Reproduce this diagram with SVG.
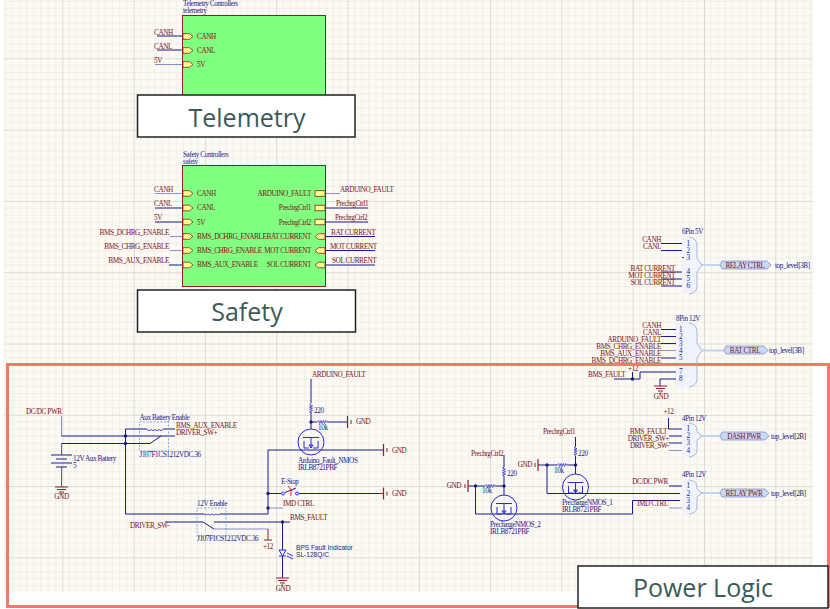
<svg xmlns="http://www.w3.org/2000/svg" width="830" height="609" viewBox="0 0 830 609">
<style>
text{font-family:"Liberation Serif","Times New Roman",serif;font-size:7.2px;letter-spacing:-.4px}
.r{fill:#7a1020}.b{fill:#20208a}.e{text-anchor:end}.m{text-anchor:middle}
text.s{font-family:"Liberation Sans",Arial,sans-serif;font-size:6.6px;letter-spacing:0;fill:#20208a}
text.big{font-family:"Open Sans","Noto Sans",sans-serif;font-size:25px;letter-spacing:0;fill:#3c5a58;text-anchor:middle}
.w{fill:none;stroke:#1c1c8c;stroke-width:1}
.p{fill:none;stroke:#8f90cc;stroke-width:1}
.g{fill:none;stroke:#8a1f2a;stroke-width:1}
.sheet{fill:#80ff80;stroke:#8a1f2a;stroke-width:1}
.box{fill:#fff;stroke:#222;stroke-width:1.5}
.port{fill:#ffff90;stroke:#8a1f2a;stroke-width:.8}
.j{fill:#1c1c6c}
.mos{fill:none;stroke:#2a2ae0;stroke-width:1}
.rs{fill:none;stroke:#2a2ad0;stroke-width:.8}
.rly{fill:none;stroke:#5a90e0;stroke-width:.7;stroke-dasharray:2 1.5}
.hb{fill:#f0f3fa;stroke:none}
.hl{fill:none;stroke:#a9b6e0;stroke-width:1}
.hw{fill:none;stroke:#c6d4f4;stroke-width:2}
.hp{fill:#c8d8f6;stroke:#7a88c0;stroke-width:.7}
</style>
<defs>
<pattern id="grid" width="71.3" height="71.3" patternUnits="userSpaceOnUse" patternTransform="translate(-9 -13)">
<rect width="71.3" height="71.3" fill="#fcfaf4"/>
<path d="M7.13 0V71.3M14.26 0V71.3M21.39 0V71.3M28.52 0V71.3M35.65 0V71.3M42.78 0V71.3M49.91 0V71.3M57.04 0V71.3M64.17 0V71.3M0 7.13H71.3M0 14.26H71.3M0 21.39H71.3M0 28.52H71.3M0 35.65H71.3M0 42.78H71.3M0 49.91H71.3M0 57.04H71.3M0 64.17H71.3" fill="none" stroke="#f1eee5" stroke-width="1"/>
<path d="M.5 0V71.3M0 .5H71.3" fill="none" stroke="#dedbd1" stroke-width="1"/>
</pattern>
<path id="pin" class="port" d="M0-2.8H6.5L10 0L6.5 2.8H0Z"/>
<path id="pinr" class="port" d="M10-2.8H3.5L0 0L3.5 2.8H10Z"/>
<rect id="pino" class="port" x="0" y="-2.8" width="10" height="5.6"/>
<circle id="dot" class="j" r="1.7"/>
<path id="rv" class="rs" d="M0-4.5L-1.5-3.4L1.5-2.2L-1.5-1L1.5 .2L-1.5 1.4L1.5 2.6L-1.5 3.8L0 4.5"/>
<path id="rh" class="g" d="M-4.5 0L-3.4-1.5L-2.2 1.5L-1-1.5L.2 1.5L1.4-1.5L2.6 1.5L3.8-1.5L4.5 0" style="stroke:#2a2ad0;stroke-width:.8"/>
<g id="gndd"><path class="g" d="M-6.5 0H6.5M-4.5 2.5H4.5M-2.5 5H2.5M-.8 7H.8"/></g>
<path id="gndv" class="g" d="M0-6V6" style="stroke-width:1.2"/>
<g id="fet"><circle class="mos" r="13"/><path class="mos" d="M-8-4.5H8M-7-1V6H-2M7-1V6H2M0-4.5V6M0 6L-2 3H2Z"/></g>
</defs>
<rect width="830" height="609" fill="#fff"/>
<rect x="4" y="0" width="809" height="592" fill="url(#grid)"/>

<g id="connectors">
<path class="w" d="M157 36H184M157 50H184"/>
<path class="p" d="M155 64.500H184"/>
<path class="p" d="M155 193.500H184M170 236.500H184M170 250.500H184M325 193.500H340"/>
<path class="w" d="M155 208H184M155 222H184M169 265H184M325 208H368M325 222H368M325 236.500H375M325 250.500H375M325 265H375"/>
<path class="w" d="M661 243.500H684M661 250.500H684M661 272H684M661 279H684M661 286H684"/>
<path class="w" d="M661 329.500H679M661 336.500H679M661 343.500H679M661 358H679"/>
<path class="p" d="M661 350.500H679M661 365H679"/>
<path class="w" d="M632.500 379H640V372H679M660 379H679"/>
<path class="w" d="M660 379V386M632.500 372V379M614 379H632.500"/>
<path class="w" d="M668.500 418V429H683M669 436H683M669 443H683M669 486H683"/>
<path class="p" d="M669 450.500H683M669 508H683"/>
<path class="p" d="M61.500 416V436"/>
<path class="w" d="M61.500 436H175M61.500 443.500H150"/>
<path d="M61.500 443.500V455M61.500 467V487" class="g" style="stroke:#666"/>
<path class="w" d="M125.500 429V514H204M125.500 429H147M163 429H175"/>
<path class="w" d="M220 514H268V450H383"/>
<path class="w" d="M268 493.500H281M299 493.500H378"/>
<path class="p" d="M268 508H283M214 529H268"/>
<path class="g" d="M378 493.500H383"/>
<path class="w" d="M165 522H203M214 522H290M282.500 522V550M282.500 556V578"/>
<path class="g" d="M268 529V540"/>
<path class="w" d="M311 379V403M311 412V429M311 422H317M327 422H347"/>
<path class="w" d="M575.500 437V447M575.500 456V474M575.500 465H567M557 465H538"/>
<path class="w" d="M547 465V493.500H680"/>
<path class="w" d="M504 455V467M504 476V495M504 486H495M485 486H468M475.500 486V514H632.500V500.500H680"/>
</g>

<g id="telemetry">
<text class="b" x="183" y="6">Telemetry Controllers</text>
<text class="b" x="183" y="13">telemetry</text>
<rect class="sheet" x="182.500" y="15.500" width="143" height="80"/>
<use href="#pin" x="183" y="36.500"/><use href="#pin" x="183" y="50.500"/><use href="#pin" x="183" y="64.500"/>
<text class="r" x="197" y="38.500">CANH</text><text class="r" x="197" y="52.500">CANL</text><text class="r" x="197" y="67">5V</text>
<text class="r" x="154" y="35">CANH</text><text class="r" x="154" y="49">CANL</text><text class="r" x="154" y="63">5V</text>
</g>
<g id="telemetry-label"><rect class="box" x="137.500" y="95" width="217.500" height="42"/><text class="big" x="247" y="127">Telemetry</text></g>

<g id="safety">
<text class="b" x="183" y="157">Safety Controllers</text>
<text class="b" x="183" y="164">safety</text>
<rect class="sheet" x="182.500" y="165.500" width="143" height="121"/>
<use href="#pin" x="183" y="193.500"/><use href="#pin" x="183" y="208"/><use href="#pin" x="183" y="222"/><use href="#pin" x="183" y="236.500"/><use href="#pin" x="183" y="250.500"/><use href="#pin" x="183" y="265"/>
<use href="#pino" x="315" y="193.500"/><use href="#pino" x="315" y="208"/><use href="#pino" x="315" y="222"/><use href="#pinr" x="315" y="236.500"/><use href="#pinr" x="315" y="250.500"/><use href="#pinr" x="315" y="265"/>
<text class="r" x="197" y="195.500">CANH</text><text class="r" x="197" y="210">CANL</text><text class="r" x="197" y="224.500">5V</text><text class="r" x="197" y="238.500">BMS_DCHRG_ENABLE</text><text class="r" x="197" y="253">BMS_CHRG_ENABLE</text><text class="r" x="197" y="267">BMS_AUX_ENABLE</text>
<text class="r e" x="311" y="195.500">ARDUINO_FAULT</text><text class="r e" x="311" y="210">PrechrgCtrl1</text><text class="r e" x="311" y="224.500">PrechrgCtrl2</text><text class="r e" x="311" y="238.500">BAT CURRENT</text><text class="r e" x="311" y="253">MOT CURRENT</text><text class="r e" x="311" y="267">SOL CURRENT</text>
<text class="r" x="154" y="192">CANH</text><text class="r" x="154" y="206">CANL</text><text class="r" x="154" y="220">5V</text>
<text class="r e" x="169" y="234.500">BMS_DCHRG_ENABLE</text><text class="r e" x="169" y="249">BMS_CHRG_ENABLE</text><text class="r e" x="169" y="263">BMS_AUX_ENABLE</text>
<text class="r" x="340" y="192">ARDUINO_FAULT</text><text class="r" x="336" y="206">PrechrgCtrl1</text><text class="r" x="335" y="220">PrechrgCtrl2</text><text class="r" x="331" y="234.500">BAT CURRENT</text><text class="r" x="330" y="249">MOT CURRENT</text><text class="r" x="332" y="263">SOL CURRENT</text>
</g>
<g id="safety-label"><rect class="box" x="137.500" y="290" width="218" height="42"/><text class="big" x="247" y="321">Safety</text></g>

<g id="harness-6pin">
<path class="hb" d="M682 237H689Q697 238 697 246V258L702 265L697 272V286Q697 293 689 294H682Z"/>
<path class="hl" d="M689 237Q697 238 697 246V258L702 265L697 272V286Q697 293 689 294"/><path class="hw" d="M702 265H720"/>
<text class="b" x="682" y="234">6Pin 5V</text>
<text class="b m" x="688" y="245.500">1</text><text class="b m" x="688" y="252.500">2</text><text class="b m" x="688" y="259.500">3</text><text class="b m" x="688" y="274">4</text><text class="b m" x="688" y="281">5</text><text class="b m" x="688" y="288">6</text>
<circle class="j" cx="683" cy="257.500" r=".8"/>
<text class="r e" x="661" y="242">CANH</text><text class="r e" x="661" y="249">CANL</text><text class="r e" x="675" y="271">BAT CURRENT</text><text class="r e" x="675" y="278">MOT CURRENT</text><text class="r e" x="675" y="285">SOL CURRENT</text>
<path class="hp" d="M722 261H767L771 265L767 269H722L720 265Z"/><text class="r m" x="745" y="267.500">RELAY CTRL</text>
<text class="b" x="775" y="267.500">top_level[3B]</text>
</g>
<g id="harness-8pin">
<path class="hb" d="M676 323H689Q697 324 697 332V343L702 350.500L697 358V379Q697 386 689 387H676Z"/>
<path class="hl" d="M689 323Q697 324 697 332V343L702 350.500L697 358V379Q697 386 689 387"/><path class="hw" d="M702 350.500H724"/>
<text class="b" x="676" y="321">8Pin 12V</text>
<text class="b m" x="680.500" y="331.500">1</text><text class="b m" x="680.500" y="338.500">2</text><text class="b m" x="680.500" y="345.500">3</text><text class="b m" x="680.500" y="352.500">4</text><text class="b m" x="680.500" y="360">5</text><text class="b m" x="680.500" y="374">7</text><text class="b m" x="680.500" y="381">8</text>
<text class="r e" x="661" y="328">CANH</text><text class="r e" x="661" y="335">CANL</text><text class="r e" x="661" y="342">ARDUINO_FAULT</text><text class="r e" x="661" y="349">BMS_CHRG_ENABLE</text><text class="r e" x="661" y="356">BMS_AUX_ENABLE</text><text class="r e" x="661" y="363">BMS_DCHRG_ENABLE</text>
<text class="r" x="588" y="377">BMS_FAULT</text><text class="r" x="628" y="371">+12</text>
<use href="#dot" x="632.500" y="379"/>
<use href="#gndd" x="660.500" y="386"/><text class="r m" x="661" y="399">GND</text>
<path class="hp" d="M726 346H764L768 350.500L764 354H726L724 350.500Z"/><text class="r m" x="745" y="352.500">BAT CTRL</text>
<text class="b" x="769" y="352.500">top_level[3B]</text>
</g>
<g id="harness-4pin-dash">
<path class="hb" d="M682 423H689Q697 424 697 430V432L702 436L697 440V450Q697 456 689 457H682Z"/>
<path class="hl" d="M689 423Q697 424 697 430V432L702 436L697 440V450Q697 456 689 457"/><path class="hw" d="M702 436H720"/>
<text class="b" x="682" y="421">4Pin 12V</text>
<text class="b m" x="688" y="431">1</text><text class="b m" x="688" y="438">2</text><text class="b m" x="688" y="445">3</text><text class="b m" x="688" y="452.500">4</text>
<text class="r m" x="668.500" y="414">+12</text>
<text class="r e" x="667" y="434">BMS_FAULT</text><text class="r e" x="669" y="441">DRIVER_SW+</text><text class="r e" x="669" y="448">DRIVER_SW-</text>
<path class="hp" d="M722 432H765L769 436L765 440H722L720 436Z"/><text class="r m" x="744" y="438.500">DASH PWR</text>
<text class="b" x="771" y="438.500">top_level[2B]</text>
</g>
<g id="harness-4pin-relay">
<path class="hb" d="M682 480H689Q697 481 697 487V489L702 493L697 497V507Q697 513 689 514H682Z"/>
<path class="hl" d="M689 480Q697 481 697 487V489L702 493L697 497V507Q697 513 689 514"/><path class="hw" d="M702 493H720"/>
<text class="b" x="682" y="477">4Pin 12V</text>
<text class="b m" x="688" y="488">1</text><text class="b m" x="688" y="495.500">2</text><text class="b m" x="688" y="502.500">3</text><text class="b m" x="688" y="510">4</text>
<text class="r e" x="668" y="484">DC/DC PWR</text><text class="r e" x="668" y="506">IMD CTRL</text>
<path class="hp" d="M722 489H765L769 493L765 497H722L720 493Z"/><text class="r m" x="744" y="495.500">RELAY PWR</text>
<text class="b" x="771" y="495.500">top_level[2B]</text>
</g>

<g id="battery">
<text class="r" x="26" y="414">DC/DC PWR</text>
<path class="w" d="M51 455H72M56 459H67M51 463H72M56 467H67"/>
<text class="b" x="73" y="461">12V Aux Battery</text><text class="b" x="73" y="468">5</text>
<use href="#gndd" x="61.500" y="487"/><text class="r m" x="61.500" y="499">GND</text>
<use href="#dot" x="125.500" y="436"/><use href="#dot" x="125.500" y="443.500"/>
</g>
<g id="relay-aux">
<rect class="rly" x="139.500" y="422" width="29" height="29"/>
<path class="rs" d="M147 429.500Q149 432 151 429.500Q153 432 155 429.500Q157 432 159 429.500Q161 432 163 429.500"/>
<path class="w" d="M150 443.500L161 436"/>
<text class="b" x="139.500" y="420">Aux Battery Enable</text>
<text class="r" x="176" y="428">BMS_AUX_ENABLE</text><text class="r" x="176" y="435">DRIVER_SW+</text>
<text class="b" x="139.500" y="457">J107F1CS1212VDC.36</text>
</g>
<g id="relay-12v">
<rect class="rly" x="197" y="508" width="29" height="29"/>
<path class="rs" d="M204 514Q206 516 208 514Q210 516 212 514Q214 516 216 514Q218 516 220 514"/>
<path class="w" d="M203 522L214 529"/>
<text class="b" x="197" y="506">12V Enable</text>
<text class="r" x="130" y="528">DRIVER_SW-</text>
<text class="b" x="197" y="541">J107F1CS1212VDC.36</text>
<text class="r" x="290" y="520">BMS_FAULT</text>
<text class="r m" x="268" y="549">+12</text>
<path class="g" d="M264 540H272"/>
<use href="#dot" x="282.500" y="522"/>
</g>
<g id="fet-arduino">
<text class="r" x="312" y="377">ARDUINO_FAULT</text>
<use href="#rv" x="311" y="408"/><text class="b" x="314" y="413">220</text>
<use href="#dot" x="311" y="422"/>
<use href="#rh" x="322" y="422"/><text class="b" x="318" y="430">10k</text>
<use href="#gndv" x="347.500" y="422"/><path class="g" d="M351 420V424"/><text class="r" x="356" y="424">GND</text>
<use href="#fet" x="311" y="442"/>
<text class="b" x="298" y="463">Arduino_Fault_NMOS</text><text class="b" x="298" y="470">IRLB8721PBF</text>
<use href="#gndv" x="383.500" y="450"/><path class="g" d="M387 448V452"/><text class="r" x="392" y="453">GND</text>
</g>
<g id="estop">
<text class="b" x="281" y="484">E-Stop</text>
<circle class="mos" cx="283" cy="493.500" r="1.500"/><circle class="mos" cx="297" cy="493.500" r="1.500"/>
<path class="w" d="M285 492.500L296 488"/><path class="g" d="M288 486L292 491M291 490V496" style="stroke:#e02020"/>
<use href="#dot" x="268" y="493.500"/><use href="#dot" x="268" y="508"/>
<text class="r" x="283" y="506">IMD CTRL</text>
<use href="#gndv" x="383.500" y="493.500"/><path class="g" d="M387 491.500V495.500"/><text class="r" x="392" y="496">GND</text>
</g>
<g id="led">
<path class="mos" d="M279 550H286L282.500 556ZM279 556H286M287 553L293 556M287 556L293 559"/>
<text class="s" x="296" y="549.500">BPS Fault Indicator</text><text class="s" x="296" y="556.500">SL-128Q/C</text>
<use href="#gndd" x="282.500" y="578"/><text class="r m" x="283" y="591">GND</text>
</g>
<g id="fet-precharge-1">
<text class="r" x="543" y="434">PrechrgCtrl1</text>
<use href="#rv" x="575.500" y="451"/><text class="b" x="578" y="456">220</text>
<use href="#dot" x="575.500" y="465"/><use href="#dot" x="547" y="465"/>
<use href="#rh" x="562" y="465"/><text class="b" x="554" y="473">10k</text>
<use href="#gndv" x="538" y="465"/><path class="g" d="M535 463V467"/><text class="r e" x="532" y="467">GND</text>
<use href="#fet" x="575.500" y="487"/>
<text class="b" x="562" y="505">PrechargeNMOS_1</text><text class="b" x="562" y="512">IRLB8721PBF</text>
</g>
<g id="fet-precharge-2">
<text class="r" x="471" y="456">PrechrgCtrl2</text>
<use href="#rv" x="504" y="471.500"/><text class="b" x="507" y="476">220</text>
<use href="#dot" x="504" y="486"/><use href="#dot" x="475.500" y="486"/>
<use href="#rh" x="490" y="486"/><text class="b" x="482" y="493">10k</text>
<use href="#gndv" x="468" y="486"/><path class="g" d="M465 484V488"/><text class="r e" x="461" y="488">GND</text>
<use href="#fet" x="504" y="508"/>
<text class="b" x="490" y="527">PrechargeNMOS_2</text><text class="b" x="490" y="534">IRLB8721PBF</text>
</g>

<g id="power-logic">
<rect x="7.500" y="364.500" width="821" height="242" fill="none" stroke="#f5796a" stroke-width="3"/>
<rect class="box" x="578" y="566" width="250" height="42"/><text class="big" x="703" y="597">Power Logic</text>
</g>
</svg>
